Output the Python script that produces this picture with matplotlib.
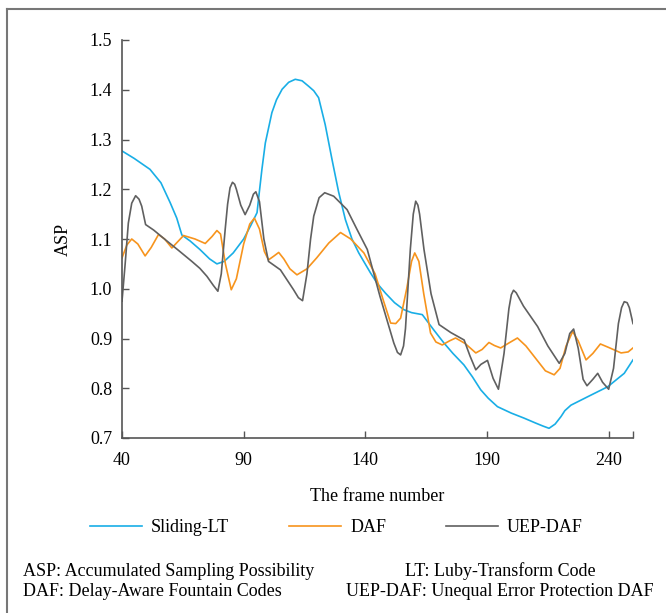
import numpy as np
import matplotlib.pyplot as plt
from matplotlib.lines import Line2D

# datos
x_lt = [40, 45, 51.5, 56, 59.8, 62.5, 64.6, 68, 72, 76, 79, 82, 85.7, 90, 93, 95.5, 96.1, 97.5, 98.9, 101.6,
        103.5, 105.8, 108.5, 111.2, 114, 116.7, 118.8, 120.8, 123.5, 126.3, 129, 131.8, 134.5, 137.3,
        142.1, 145, 148.3, 152, 155.8, 159, 163.4, 168, 172.3, 176, 180.5, 184, 187.4, 190.5, 194.3,
        200, 205.2, 210, 213, 215.5, 218, 220.4, 222, 224.5, 231.4, 239.6, 246.4, 250]
y_lt = [1.277, 1.262, 1.240, 1.213, 1.173, 1.142, 1.108, 1.096, 1.079, 1.060, 1.050, 1.055, 1.072, 1.100,
        1.128, 1.153, 1.180, 1.240, 1.293, 1.354, 1.380, 1.401, 1.415, 1.421, 1.418, 1.407, 1.398, 1.384,
        1.330, 1.260, 1.195, 1.139, 1.100, 1.072, 1.032, 1.010, 0.991, 0.972, 0.958, 0.952, 0.948, 0.918,
        0.891, 0.870, 0.847, 0.823, 0.797, 0.780, 0.763, 0.750, 0.740, 0.730, 0.724, 0.7195, 0.728, 0.743,
        0.755, 0.766, 0.783, 0.803, 0.830, 0.857]

x_daf = [40, 42, 44, 46.5, 49.5, 52, 55, 57.5, 60.5, 63, 65.3, 70, 74.2, 77, 79, 80.5, 82.5, 84.9, 87,
         90, 92.5, 94.4, 96.5, 98.5, 100.2, 102.5, 104.4, 106.5, 109, 111.9, 116, 120, 125, 129.8, 134,
         139.4, 144, 147.5, 150.4, 152.5, 154.5, 157, 159, 160.3, 162, 164, 166.8, 169, 171.6, 174.5,
         177.1, 181, 185.4, 188, 190.8, 193, 195.6, 199, 202.5, 206, 210, 214, 217.6, 220, 222.5, 225.2,
         227.5, 230.7, 233.5, 236.6, 240, 245.1, 248, 250]
y_daf = [1.062, 1.088, 1.100, 1.090, 1.066, 1.083, 1.109, 1.100, 1.082, 1.095, 1.107, 1.100, 1.091, 1.105,
         1.117, 1.110, 1.050, 0.998, 1.020, 1.090, 1.130, 1.142, 1.120, 1.075, 1.058, 1.066, 1.073, 1.060,
         1.040, 1.028, 1.040, 1.062, 1.092, 1.113, 1.100, 1.072, 1.030, 0.975, 0.931, 0.930, 0.941, 1.000,
         1.055, 1.072, 1.055, 0.990, 0.911, 0.893, 0.887, 0.895, 0.901, 0.890, 0.871, 0.878, 0.892, 0.886,
         0.881, 0.891, 0.901, 0.885, 0.860, 0.835, 0.827, 0.840, 0.885, 0.914, 0.895, 0.857, 0.870, 0.889,
         0.882, 0.871, 0.873, 0.881]

x_uep = [40, 41.3, 42.6, 44, 45.6, 47, 48.1, 49.7, 53, 57.7, 63, 68.7, 72, 74.9, 77.5, 79.4, 80.8, 82.4,
         83.4, 84.4, 85.4, 86.3, 87, 88.8, 90.6, 92.5, 94, 95, 96.5, 98.3, 100.2, 105.1, 110.5, 112.5, 114.2,
         116, 117.5, 118.8, 121, 123.3, 127, 132.5, 136.5, 140.8, 146, 151.7, 153.2, 154.5, 155.7, 156.5,
         158.5, 159.7, 160.7, 161.6, 162.3, 164.1, 167, 170.3, 175.1, 180.6, 183, 185.4, 187.5, 190.2, 192.5,
         194.7, 197, 199, 200, 200.9, 202, 205, 210.8, 215, 219.7, 222, 224, 225.6, 227.5, 229.5, 231.1,
         233.5, 235.5, 237.5, 240, 242, 244, 245.3, 246.4, 247.6, 248.5, 250]
y_uep = [0.975, 1.050, 1.132, 1.172, 1.187, 1.180, 1.166, 1.129, 1.118, 1.099, 1.078, 1.055, 1.041, 1.025,
         1.007, 0.995, 1.030, 1.119, 1.170, 1.203, 1.214, 1.210, 1.200, 1.168, 1.149, 1.168, 1.190, 1.195,
         1.175, 1.100, 1.055, 1.038, 0.998, 0.982, 0.976, 1.030, 1.100, 1.146, 1.183, 1.193, 1.186, 1.159,
         1.120, 1.079, 0.985, 0.891, 0.872, 0.867, 0.885, 0.920, 1.080, 1.150, 1.176, 1.168, 1.150, 1.079,
         0.990, 0.928, 0.912, 0.897, 0.865, 0.837, 0.848, 0.856, 0.820, 0.798, 0.870, 0.960, 0.988, 0.997,
         0.992, 0.965, 0.924, 0.885, 0.850, 0.870, 0.910, 0.919, 0.880, 0.818, 0.805, 0.818, 0.830, 0.812,
         0.798, 0.840, 0.930, 0.962, 0.974, 0.972, 0.962, 0.930]

series = ['Sliding-LT', 'DAF', 'UEP-DAF']
colores = ['#19aee6', '#f7941d', '#606060']
xticks = [40, 90, 140, 190, 240, 250]
xtick_labels = ['40', '90', '140', '190', '240', '']
yticks = [0.7, 0.8, 0.9, 1.0, 1.1, 1.2, 1.3, 1.4, 1.5]

plt.rcParams['font.family'] = ['Liberation Serif', 'DejaVu Serif']

fig = plt.figure(figsize=(6.66, 6.13), dpi=100)
ax = fig.add_axes([122/666, 1-438/613, (633-122)/666, (438-40)/613])

for xs, ys, nombre, c in zip([x_lt, x_daf, x_uep], [y_lt, y_daf, y_uep], series, colores):
    ax.plot(xs, ys, color=c, lw=1.2, label=nombre)

ax.set_xlim(40, 250)
ax.set_ylim(0.7, 1.5)
ax.set_xticks(xticks)
ax.set_xticklabels(xtick_labels)
ax.set_yticks(yticks)
ax.set_yticklabels(['%.1f' % v for v in yticks])
ax.tick_params(direction='in', length=5, width=1, color='#555555', labelsize=13)
ax.tick_params(axis='x', pad=10)
ax.tick_params(axis='y', pad=7)
for s in ['top', 'right']:
    ax.spines[s].set_visible(False)
for s in ['left', 'bottom']:
    ax.spines[s].set_color('#555555')
    ax.spines[s].set_linewidth(1.2)

ax.set_ylabel('ASP', fontsize=13, labelpad=13)
ax.set_xlabel('The frame number', fontsize=13, labelpad=14)

fig.legend(loc='center', bbox_to_anchor=(0.505, 1-528/613), ncol=3, frameon=False,
           fontsize=13, handlelength=2.9, handletextpad=0.5, columnspacing=3.3)

fig.text(23/666, 1-571/613, 'ASP: Accumulated Sampling Possibility', fontsize=13, ha='left', va='center')
fig.text(23/666, 1-591/613, 'DAF: Delay-Aware Fountain Codes', fontsize=13, ha='left', va='center')
fig.text(500/666, 1-571/613, 'LT: Luby-Transform Code', fontsize=13, ha='center', va='center')
fig.text(500/666, 1-591/613, 'UEP-DAF: Unequal Error Protection DAF', fontsize=13, ha='center', va='center')

# marco
fig.add_artist(Line2D([7/666, 1], [1-9/613, 1-9/613], transform=fig.transFigure, color='#777777', lw=1.5))
fig.add_artist(Line2D([7/666, 7/666], [0, 1-9/613], transform=fig.transFigure, color='#777777', lw=1.5))

fig.savefig('out.png', dpi=100)
